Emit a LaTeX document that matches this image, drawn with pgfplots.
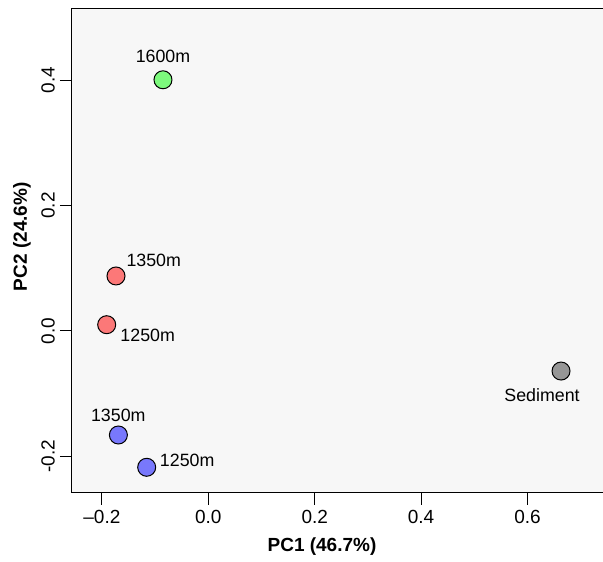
\documentclass[border=0pt]{standalone}
\usepackage{fontspec}
\setmainfont{Liberation Sans}
\usepackage{pgfplots}
\pgfplotsset{compat=1.18}

\definecolor{bg}{RGB}{247,247,247}
\definecolor{pgreen}{RGB}{125,250,125}
\definecolor{pred}{RGB}{252,120,120}
\definecolor{pblue}{RGB}{120,120,252}
\definecolor{pgray}{RGB}{150,150,150}

\tikzset{lbl/.style={font=\fontsize{17.8}{18}\selectfont, inner sep=0pt}}

\begin{document}
\begin{tikzpicture}
\path[use as bounding box] (-72pt,-69pt) rectangle (531pt,493pt);
\begin{axis}[
  scale only axis, width=540pt, height=484pt,
  xmin=-0.2562, xmax=0.7588, ymin=-0.2585, ymax=0.5134,
  axis background/.style={fill=bg},
  axis line style={line width=1pt},
  tick style={line width=1pt, black},
  tick align=outside, major tick length=12pt,
  tick pos=left,
  xtick={-0.2,0,0.2,0.4,0.6},
  xticklabels={\textendash0.2,0.0,0.2,0.4,0.6},
  ytick={-0.2,0,0.2,0.4},
  yticklabels={-0.2,0.0,0.2,0.4},
  ticklabel style={font=\fontsize{19}{19}\selectfont, inner sep=0pt},
  xticklabel style={yshift=-5pt},
  yticklabel style={xshift=-5pt, rotate=90, anchor=south},
  xlabel={PC1 (46.7\%)}, ylabel={PC2 (24.6\%)},
  label style={font=\bfseries\fontsize{19}{19}\selectfont, inner sep=0pt},
  xlabel style={at={(axis description cs:0.4630,-0.111)}, anchor=center},
  ylabel style={at={(axis description cs:-0.0926,0.5296)}, anchor=center},
  clip=false,
]
% samples
\addplot[only marks, mark=*, mark size=9pt, mark options={fill=pgreen, draw=black, line width=1pt}]
  coordinates {(-0.0852,0.4005)};
\addplot[only marks, mark=*, mark size=9pt, mark options={fill=pred, draw=black, line width=1pt}]
  coordinates {(-0.1735,0.0876) (-0.1910,0.0099)};
\addplot[only marks, mark=*, mark size=9pt, mark options={fill=pblue, draw=black, line width=1pt}]
  coordinates {(-0.1690,-0.1660) (-0.1158,-0.2175)};
\addplot[only marks, mark=*, mark size=9pt, mark options={fill=pgray, draw=black, line width=1pt}]
  coordinates {(0.6630,-0.0640)};

\node[lbl] at (axis cs:-0.0852,0.4377) {1600m};
\node[lbl] at (axis cs:-0.1026,0.1123) {1350m};
\node[lbl] at (axis cs:-0.1139,-0.0073) {1250m};
\node[lbl] at (axis cs:-0.1692,-0.1349) {1350m};
\node[lbl] at (axis cs:-0.0397,-0.2067) {1250m};
\node[lbl] at (axis cs:0.6273,-0.1022) {Sediment};
\end{axis}
\end{tikzpicture}
\end{document}
